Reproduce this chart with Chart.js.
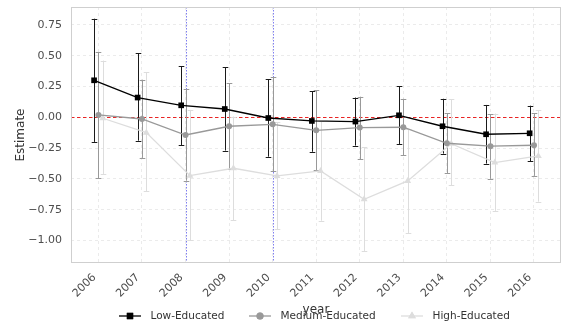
<!DOCTYPE html>
<html>
<head>
<meta charset="utf-8">
<script src="https://cdn.jsdelivr.net/npm/chart.js@4/dist/chart.umd.min.js"></script>
<style>
  html, body { margin: 0; padding: 0; background: #ffffff; }
  #wrap { width: 563px; height: 331px; position: relative; }
</style>
</head>
<body>
<div id="wrap"><canvas id="c" width="563" height="331"></canvas></div>
<script>
// Survey years
const years = [2006, 2007, 2008, 2009, 2010, 2011, 2012, 2013, 2014, 2015, 2016];

// Point estimates with lower / upper confidence bounds, by education group
const lowEst  = [0.300, 0.160, 0.097, 0.067, -0.006, -0.030, -0.035, 0.016, -0.073, -0.138, -0.130];
const lowLo   = [-0.200, -0.190, -0.225, -0.270, -0.320, -0.280, -0.230, -0.217, -0.295, -0.376, -0.355];
const lowHi   = [0.800, 0.520, 0.416, 0.406, 0.310, 0.210, 0.160, 0.250, 0.150, 0.100, 0.094];

const medEst  = [0.019, -0.014, -0.144, -0.073, -0.057, -0.106, -0.084, -0.081, -0.211, -0.235, -0.227];
const medLo   = [-0.495, -0.330, -0.515, -0.420, -0.440, -0.430, -0.340, -0.308, -0.455, -0.500, -0.476];
const medHi   = [0.530, 0.305, 0.227, 0.276, 0.325, 0.220, 0.167, 0.150, 0.032, 0.024, 0.032];

const highEst = [-0.008, -0.125, -0.474, -0.414, -0.476, -0.436, -0.666, -0.517, -0.215, -0.368, -0.314];
const highLo  = [-0.460, -0.600, -1.000, -0.834, -0.910, -0.840, -1.085, -0.940, -0.550, -0.760, -0.685];
const highHi  = [0.460, 0.365, 0.060, 0.006, -0.040, -0.030, -0.243, -0.094, 0.146, 0.030, 0.057];

const groupNames = ['Low-Educated', 'Medium-Educated', 'High-Educated'];

// Axis breaks and reference lines
const yTicks = [0.75, 0.50, 0.25, 0.00, -0.25, -0.50, -0.75, -1.00];
const refYears = [2008, 2010];
const refZero = 0;

// horizontal dodge between groups, in years
const dodge = 0.1;

const FONT = '"DejaVu Sans", "Liberation Sans", sans-serif';

function pts(est, shift) {
  return years.map((yr, i) => ({ x: yr + shift, y: est[i] }));
}

const groups = [
  { name: groupNames[0], est: lowEst,  lo: lowLo,  hi: lowHi,  shift: -dodge, color: '#000000', bar: '#1a1a1a', style: 'rect',     r: 4.0 },
  { name: groupNames[1], est: medEst,  lo: medLo,  hi: medHi,  shift: 0,      color: '#999999', bar: '#999999', style: 'circle',   r: 3.0 },
  { name: groupNames[2], est: highEst, lo: highLo, hi: highHi, shift: dodge,  color: '#dddddd', bar: '#dddddd', style: 'triangle', r: 4.0 }
];

const datasets = groups.map(g => ({
  label: g.name,
  data: pts(g.est, g.shift),
  borderColor: g.color,
  backgroundColor: g.color,
  borderWidth: 1.3,
  pointStyle: g.style,
  pointRadius: g.r,
  pointHoverRadius: g.r,
  pointBorderWidth: 0,
  tension: 0,
  fill: false
}));

// panel frame, reference lines and error bars
const decor = {
  id: 'decor',
  beforeDatasetsDraw(chart) {
    const { ctx, chartArea: a, scales: { x, y } } = chart;
    ctx.save();
    ctx.beginPath();
    ctx.rect(a.left, a.top, a.right - a.left, a.bottom - a.top);
    ctx.clip();

    // vertical reference years
    ctx.strokeStyle = 'rgba(40,40,230,0.75)';
    ctx.lineWidth = 0.8;
    ctx.setLineDash([1.5, 1.5]);
    refYears.forEach(v => {
      const px = Math.round(x.getPixelForValue(v)) + 0.5;
      ctx.beginPath(); ctx.moveTo(px, a.top); ctx.lineTo(px, a.bottom); ctx.stroke();
    });

    // zero line
    ctx.strokeStyle = 'rgb(232,36,36)';
    ctx.lineWidth = 1;
    ctx.setLineDash([3.5, 2.5]);
    const zy = Math.round(y.getPixelForValue(refZero)) + 0.5;
    ctx.beginPath(); ctx.moveTo(a.left, zy); ctx.lineTo(a.right, zy); ctx.stroke();
    ctx.setLineDash([]);

    // error bars, lightest group first
    for (let k = groups.length - 1; k >= 0; k--) {
      const g = groups[k];
      ctx.strokeStyle = g.bar;
      ctx.lineWidth = 1;
      years.forEach((yr, i) => {
        const px = Math.round(x.getPixelForValue(yr + g.shift)) + 0.5;
        const t = y.getPixelForValue(g.hi[i]);
        const b = y.getPixelForValue(g.lo[i]);
        ctx.beginPath();
        ctx.moveTo(px, t); ctx.lineTo(px, b);
        ctx.moveTo(px - 2.8, Math.round(t) + 0.5); ctx.lineTo(px + 2.8, Math.round(t) + 0.5);
        ctx.moveTo(px - 2.8, Math.round(b) + 0.5); ctx.lineTo(px + 2.8, Math.round(b) + 0.5);
        ctx.stroke();
      });
    }
    ctx.restore();

    // panel frame
    ctx.save();
    ctx.strokeStyle = '#cfcfcf';
    ctx.lineWidth = 1;
    ctx.strokeRect(a.left + 0.5, a.top + 0.5, a.right - a.left - 1, a.bottom - a.top - 1);
    ctx.restore();
  },
  afterDraw(chart) {
    const { ctx, chartArea: a } = chart;
    ctx.save();
    // axis titles
    ctx.fillStyle = '#333333';
    ctx.font = '12px ' + FONT;
    ctx.textAlign = 'center';
    ctx.textBaseline = 'alphabetic';
    ctx.fillText('year', (a.left + a.right) / 2, 313);
    ctx.save();
    ctx.translate(24, (a.top + a.bottom) / 2);
    ctx.rotate(-Math.PI / 2);
    ctx.fillText('Estimate', 0, 0);
    ctx.restore();

    // legend
    const ly = 316;
    const keys = [130, 260, 412];
    ctx.font = '10.5px ' + FONT;
    ctx.textAlign = 'left';
    ctx.textBaseline = 'middle';
    groups.forEach((g, k) => {
      const cx = keys[k];
      ctx.strokeStyle = g.color;
      ctx.lineWidth = 1.3;
      ctx.beginPath(); ctx.moveTo(cx - 11, ly); ctx.lineTo(cx + 11, ly); ctx.stroke();
      ctx.fillStyle = g.color;
      Chart.helpers.drawPoint(ctx, { pointStyle: g.style, radius: g.r + 0.5, borderWidth: 0 }, cx, ly);
      ctx.fill();
      ctx.fillStyle = '#333333';
      ctx.fillText(g.name, cx + 20.5, ly + 0.5);
    });
    ctx.restore();
  }
};

const fmt = v => (v < 0 ? '\u2212' : '') + Math.abs(v).toFixed(2);

new Chart(document.getElementById('c'), {
  type: 'line',
  data: { datasets },
  options: {
    responsive: false,
    animation: false,
    devicePixelRatio: 1,
    layout: { autoPadding: false, padding: { top: 7, right: 2, left: 0, bottom: 0 } },
    plugins: { legend: { display: false }, tooltip: { enabled: false } },
    scales: {
      x: {
        type: 'linear',
        min: 2005.37,
        max: 2016.62,
        afterFit(s) { s.height = 68; s.paddingLeft = 0; s.paddingRight = 0; },
        afterBuildTicks(s) { s.ticks = years.map(v => ({ value: v })); },
        grid: { color: '#ebebeb', lineWidth: 1, drawTicks: false },
        border: { display: false, dash: [3, 3] },
        ticks: {
          autoSkip: false,
          minRotation: 45,
          maxRotation: 45,
          padding: 8,
          labelOffset: -4,
          color: '#4d4d4d',
          font: { family: FONT, size: 11 },
          callback: v => String(v)
        }
      },
      y: {
        type: 'linear',
        min: -1.183,
        max: 0.895,
        afterFit(s) { s.width = 71; s.paddingTop = 0; s.paddingBottom = 0; },
        afterBuildTicks(s) { s.ticks = yTicks.map(v => ({ value: v })); },
        grid: { color: '#ebebeb', lineWidth: 1, drawTicks: false },
        border: { display: false, dash: [3, 3] },
        ticks: {
          padding: 9,
          color: '#4d4d4d',
          font: { family: FONT, size: 11 },
          callback: v => fmt(v)
        }
      }
    }
  },
  plugins: [decor]
});
</script>
</body>
</html>
